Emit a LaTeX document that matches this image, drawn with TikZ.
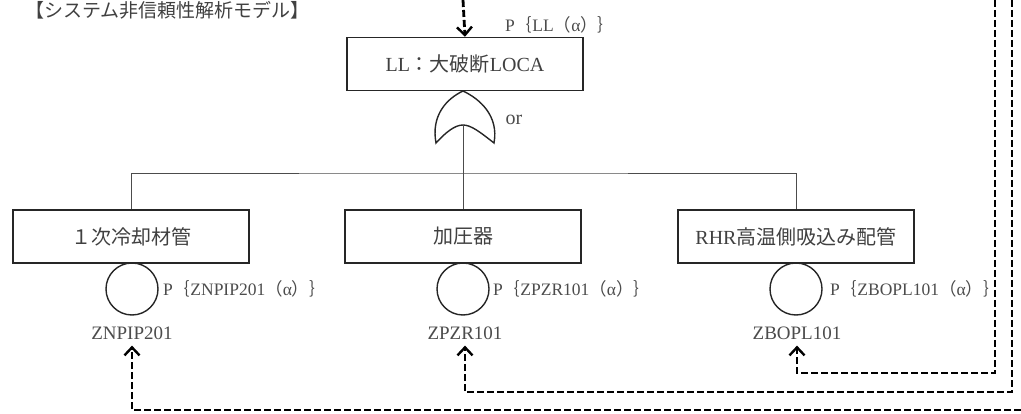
\documentclass[tikz,border=0pt]{standalone}
\usepackage{fontspec}
\setmainfont{Liberation Serif}
\newfontfamily\jp{Noto Sans CJK JP}
\usetikzlibrary{arrows.meta,positioning}
\tikzset{
  evbox/.style={rectangle, draw=black!85, line width=1.5pt, minimum width=236pt,
                minimum height=53pt, inner sep=0pt, font=\fontsize{20}{24}\selectfont,
                text=black!75},
  basic/.style={circle, draw=black!85, line width=1.4pt, minimum size=52pt, inner sep=0pt},
  plab/.style={anchor=west, inner sep=0pt, font=\fontsize{17.5}{21}\selectfont, text=black!70},
  idlab/.style={inner xsep=0pt, inner ysep=6pt, font=\fontsize{19}{22}\selectfont, text=black!70},
  tree/.style={draw=black!70, line width=0.8pt},
  gate/.style={draw=black!85, line width=1.4pt},
  feed/.style={draw=black, line width=2.8pt, dash pattern=on 7pt off 3pt,
               -{Straight Barb[length=8pt, width=15pt, line width=2.4pt]}}
}

\begin{document}
\begin{tikzpicture}[x=1pt, y=-1pt]
  \useasboundingbox (0,0) rectangle (1021,414);
  \node[anchor=west, inner sep=0pt, font=\fontsize{19}{22}\selectfont\jp, text=black!75]
    (title) at (25,10) {【システム非信頼性解析モデル】};

  % top event and or gate
  \node[evbox] (top) at (465,64) {LL{\jp ：大破断}LOCA};
  \node[plab] (ptop) at (505,25) {P{\jp ｛}LL{\jp （}α{\jp ）｝}};
  \coordinate (gin) at (463,125);
  \draw[gate] (463,91) .. controls (446,99) and (431,116) .. (436,143)
    .. controls (446,132) and (455,125) .. (gin)
    .. controls (471,125) and (480,132) .. (494,143)
    .. controls (499,116) and (480,99) .. cycle;
  \node[font=\fontsize{20}{24}\selectfont, text=black!70] (orlab) at (514,120) {or};

  % intermediate events
  \node[evbox] (e1) at (131,236.5) {{\jp １次冷却材管}};
  \node[evbox] (e2) at (463,236.5) {{\jp 加圧器}};
  \node[evbox] (e3) at (796,236.5) {RHR{\jp 高温側吸込み配管}};
  \coordinate (bus) at (463,173);
  \draw[tree] (gin) -- (e2.north);
  \draw[tree] (e1.north) |- (bus) -| (e3.north);

  % basic events
  \node[basic] (b1) at (132,289) {};
  \node[basic] (b2) at (463,289) {};
  \node[basic] (b3) at (796,289) {};
  \node[plab] (p1) at (163,289) {P{\jp ｛}ZNPIP201{\jp （}α{\jp ）｝}};
  \node[plab] (p2) at (493,289) {P{\jp ｛}ZPZR101{\jp （}α{\jp ）｝}};
  \node[plab] (p3) at (830,289) {P{\jp ｛}ZBOPL101{\jp （}α{\jp ）｝}};
  \node[idlab] (id1) at (132,333) {ZNPIP201};
  \node[idlab] (id2) at (465,333) {ZPZR101};
  \node[idlab] (id3) at (797,333) {ZBOPL101};

  % dashed feed lines
  \coordinate (src0) at (463,0);
  \coordinate (src1) at (1021,410);
  \coordinate (src2) at (1012,0);
  \coordinate (src3) at (995,0);
  \draw[feed] (src0) -- (top.north);
  \draw[feed] (src3) -- ++(0,373) -| (id3.south);
  \draw[feed] (src2) -- ++(0,392) -| (id2.south);
  \draw[feed] (src1) -| (id1.south);
\end{tikzpicture}
\end{document}
